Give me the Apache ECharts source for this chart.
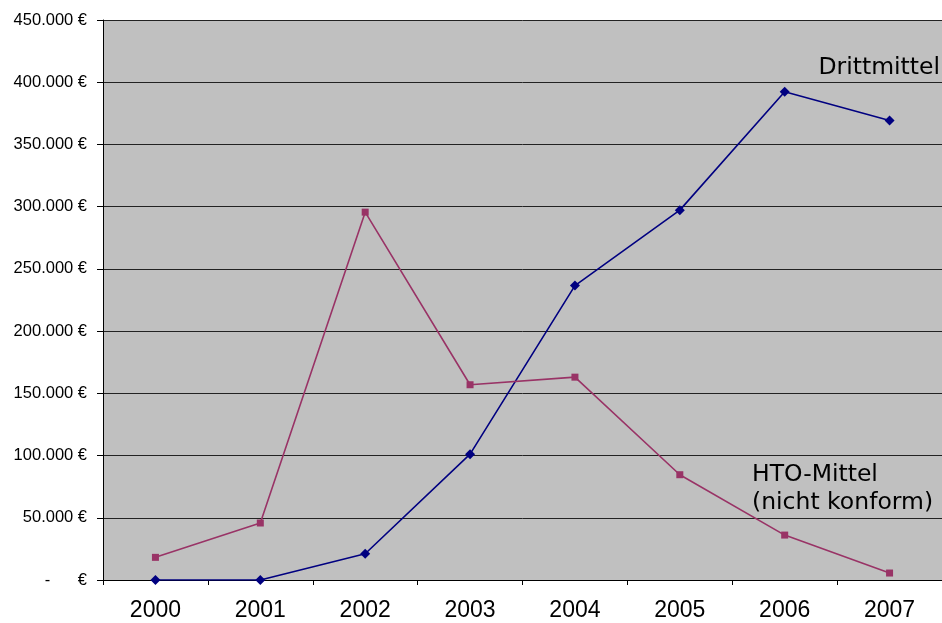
<!DOCTYPE html>
<html>
<head>
<meta charset="utf-8">
<script src="https://cdn.jsdelivr.net/npm/echarts@6/dist/echarts.min.js"></script>
<style>
  html, body { margin: 0; padding: 0; background: #fff; }
  #chart { width: 942px; height: 623px; }
</style>
</head>
<body>
<div id="chart"></div>
<script>
// Jahre und Beträge (in Euro)
const years = ['2000', '2001', '2002', '2003', '2004', '2005', '2006', '2007'];
const drittmittel = [0, 0, 21100, 101100, 236600, 297200, 392300, 369300];
const htoMittel = [18200, 45800, 295600, 156900, 163000, 84600, 36100, 5600];
const yTicks = [0, 50000, 100000, 150000, 200000, 250000, 300000, 350000, 400000, 450000];

function euro(v) {
  if (v === 0) return '-      €';
  return v.toLocaleString('de-DE') + ' €';
}

const chart = echarts.init(document.getElementById('chart'), null, { renderer: 'canvas' });

chart.setOption({
  animation: false,
  backgroundColor: '#ffffff',
  grid: {
    left: 103, right: 0, top: 20, bottom: 43,
    show: true, backgroundColor: '#c0c0c0', borderWidth: 0
  },
  xAxis: {
    type: 'category',
    data: years,
    boundaryGap: true,
    axisLine: { show: true, lineStyle: { color: '#000', width: 1 } },
    axisTick: { show: true, length: 5, inside: false, lineStyle: { color: '#000' } },
    axisLabel: { fontFamily: 'Liberation Sans, Arial', fontSize: 23, color: '#000', margin: 19 },
    splitLine: { show: false }
  },
  yAxis: {
    type: 'value',
    min: yTicks[0],
    max: yTicks[yTicks.length - 1],
    interval: 50000,
    axisLine: { show: true, lineStyle: { color: '#000', width: 1 } },
    axisTick: { show: true, length: 6, lineStyle: { color: '#000' } },
    axisLabel: {
      fontFamily: 'Liberation Sans, Arial', fontSize: 16.5, color: '#000', margin: 16,
      formatter: euro
    },
    splitLine: { show: true, lineStyle: { color: '#222', width: 1 } }
  },
  series: [
    {
      name: 'Drittmittel',
      type: 'line',
      data: drittmittel,
      symbol: 'diamond',
      symbolSize: 10,
      itemStyle: { color: '#000080' },
      lineStyle: { color: '#000080', width: 1.6 }
    },
    {
      name: 'HTO-Mittel (nicht konform)',
      type: 'line',
      data: htoMittel,
      symbol: 'rect',
      symbolSize: 7,
      itemStyle: { color: '#993366' },
      lineStyle: { color: '#993366', width: 1.6 }
    }
  ],
  graphic: [
    {
      type: 'text',
      right: 2, top: 56,
      style: { text: 'Drittmittel', fontFamily: 'DejaVu Sans', fontSize: 23.5, fill: '#000' }
    },
    {
      type: 'text',
      left: 752, top: 461,
      style: {
        text: 'HTO-Mittel\n(nicht konform)',
        fontFamily: 'DejaVu Sans', fontSize: 23.5, lineHeight: 28, fill: '#000'
      }
    }
  ]
});
</script>
</body>
</html>
